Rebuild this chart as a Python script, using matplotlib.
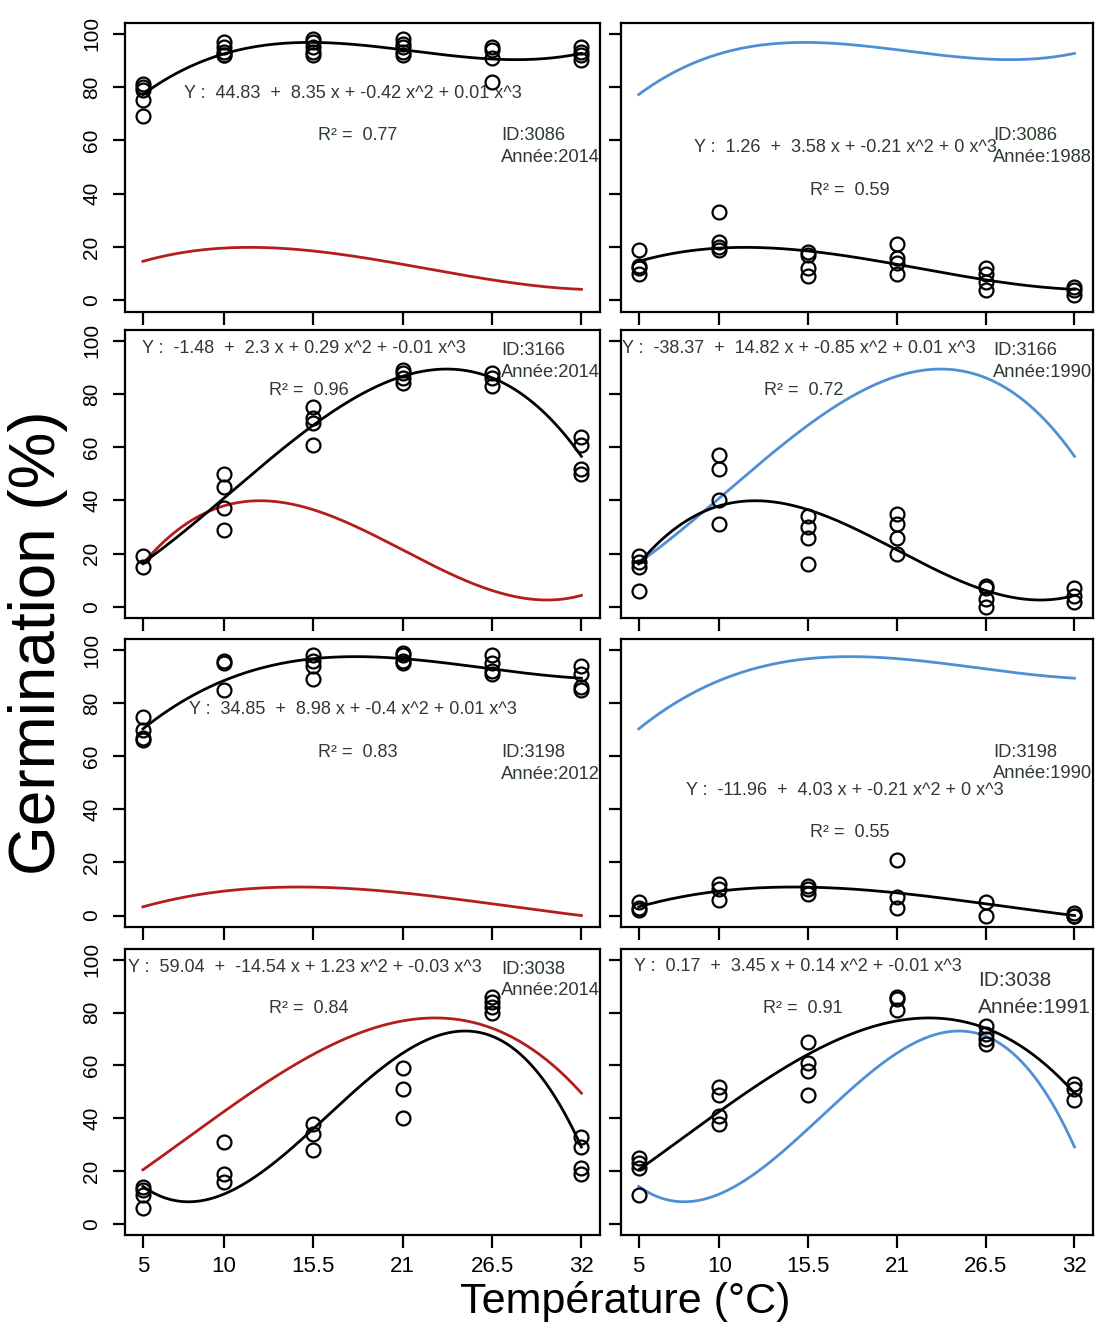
import numpy as np
import matplotlib.pyplot as plt

plt.rcParams['font.family'] = ['Liberation Sans', 'DejaVu Sans']

# temperatures (°C) and tick labels
temps = [5, 10, 15.5, 21, 26.5, 32]
tick_labels = ['5', '10', '15.5', '21', '26.5', '32']
yticks = [0, 20, 40, 60, 80, 100]

# germination (%) observations, one list per temperature
g3086_2014 = [[81, 80, 79, 75, 69], [97, 95, 93, 92, 92], [98, 97, 95, 93, 92],
              [98, 96, 95, 93, 92], [95, 94, 91, 82], [95, 93, 92, 90]]
g3086_1988 = [[19, 13, 12, 10], [33, 22, 20, 19], [18, 17, 12, 9],
              [21, 16, 14, 10], [12, 10, 7, 4], [5, 4, 2]]
g3166_2014 = [[19, 15], [50, 45, 37, 29], [75, 71, 69, 61],
              [89, 88, 86, 84], [88, 86, 83], [64, 61, 52, 50]]
g3166_1990 = [[19, 17, 15, 6], [57, 52, 40, 31], [34, 30, 26, 16],
              [35, 31, 26, 20], [8, 7, 3, 0], [7, 4, 2]]
g3198_2012 = [[75, 70, 67, 66], [96, 95, 85], [98, 96, 94, 89],
              [99, 98, 96, 95], [98, 95, 92, 91], [94, 91, 86, 85]]
g3198_1990 = [[5, 3, 2], [12, 10, 6], [11, 10, 8],
              [21, 7, 3], [5, 0], [1, 0, 0]]
g3038_2014 = [[14, 13, 11, 6], [31, 19, 16], [38, 34, 28],
              [59, 51, 40], [86, 84, 82, 80], [33, 29, 21, 19]]
g3038_1991 = [[25, 23, 21, 11], [52, 49, 41, 38], [69, 61, 58, 49],
              [86, 85, 81], [75, 72, 70, 68], [53, 51, 47]]

# printed equations and R²
equations = [
    'Y :  44.83  +  8.35 x + -0.42 x^2 + 0.01 x^3',
    'Y :  1.26  +  3.58 x + -0.21 x^2 + 0 x^3',
    'Y :  -1.48  +  2.3 x + 0.29 x^2 + -0.01 x^3',
    'Y :  -38.37  +  14.82 x + -0.85 x^2 + 0.01 x^3',
    'Y :  34.85  +  8.98 x + -0.4 x^2 + 0.01 x^3',
    'Y :  -11.96  +  4.03 x + -0.21 x^2 + 0 x^3',
    'Y :  59.04  +  -14.54 x + 1.23 x^2 + -0.03 x^3',
    'Y :  0.17  +  3.45 x + 0.14 x^2 + -0.01 x^3',
]
r2_values = [0.77, 0.59, 0.96, 0.72, 0.83, 0.55, 0.84, 0.91]
ids = ['3086', '3086', '3166', '3166', '3198', '3198', '3038', '3038']
annees = ['2014', '1988', '2014', '1990', '2012', '1990', '2014', '1991']

datasets = [g3086_2014, g3086_1988, g3166_2014, g3166_1990,
            g3198_2012, g3198_1990, g3038_2014, g3038_1991]

RED = '#b51d1d'
BLUE = '#4f8fd6'
TXT = '#2e3a2e'

# text positions (x, y) per panel: equation, R², ID block
eq_pos = [(17.9, 77.4), (17.8, 57.4), (14.9, 97.3), (14.9, 97.3),
          (17.95, 77.6), (17.8, 47.2), (15.0, 97.1), (14.85, 97.5)]
r2_pos = [(18.2, 61.8), (18.1, 41.3), (15.2, 81.3), (15.2, 81.3),
          (18.2, 61.3), (18.1, 31.4), (15.2, 81.5), (15.15, 81.5)]
id_pos = [(27.05, 61.8, 53.6), (26.95, 61.8, 53.6), (27.05, 96.3, 88.3), (26.95, 96.3, 88.3),
          (27.05, 61.3, 53.1), (26.95, 61.3, 53.5), (27.05, 96.5, 88.3), (26.05, 92.1, 82.1)]


def fit(obs):
    x = np.concatenate([[t] * len(v) for t, v in zip(temps, obs)])
    y = np.concatenate(obs)
    return np.polyfit(x, y, 3)


fig = plt.figure(figsize=(10.95, 13.28), dpi=100)

rows = [(0.7653, 0.2176), (0.5346, 0.2169), (0.3022, 0.2164), (0.0700, 0.2154)]
cols = [(0.1142, 0.4338), (0.5671, 0.4311)]

xs = np.linspace(5, 32, 200)

for r in range(4):
    for c in range(2):
        i = 2 * r + c
        other = 2 * r + (1 - c)
        ax = fig.add_axes([cols[c][0], rows[r][0], cols[c][1], rows[r][1]])

        # fitted curve of the other year
        ax.plot(xs, np.polyval(fit(datasets[other]), xs),
                color=RED if c == 0 else BLUE, lw=2.0, zorder=2)
        # this year's fit and points
        ax.plot(xs, np.polyval(fit(datasets[i]), xs), color='black', lw=2.0, zorder=3)
        for t, vals in zip(temps, datasets[i]):
            ax.plot([t] * len(vals), vals, 'o', ms=10, mfc='none', mec='black',
                    mew=1.6, zorder=4)

        ax.text(*eq_pos[i], equations[i], ha='center', va='center', fontsize=13, color=TXT)
        ax.text(*r2_pos[i], 'R² =  %.2f' % r2_values[i], ha='center', va='center',
                fontsize=13, color=TXT)
        fs = 15 if i == 7 else 13.2
        ax.text(id_pos[i][0], id_pos[i][1], 'ID:' + ids[i], ha='left', va='center',
                fontsize=fs, color=TXT)
        ax.text(id_pos[i][0], id_pos[i][2], 'Année:' + annees[i], ha='left', va='center',
                fontsize=fs, color=TXT)

        ax.set_xlim(3.9, 33.15)
        ax.set_ylim(-4.2, 104.1)
        ax.set_xticks(temps)
        ax.set_yticks(yticks)
        ax.tick_params(direction='out', length=9, width=1.6)
        ax.tick_params(axis='x', pad=6, labelsize=16, labelbottom=(r == 3))
        ax.tick_params(axis='y', pad=8, labelsize=15, labelrotation=90, labelleft=(c == 0))
        for lbl in ax.get_yticklabels():
            lbl.set_verticalalignment('center')
        for s in ax.spines.values():
            s.set_linewidth(1.6)
        ax.set_xticklabels(tick_labels)

fig.text(0.0347, 0.5158, 'Germination (%)', rotation=90, ha='center', va='center',
         fontsize=46)
fig.text(0.571, 0.0196, 'Température (°C)', ha='center', va='center', fontsize=31)

fig.savefig('out.png', dpi=100)
